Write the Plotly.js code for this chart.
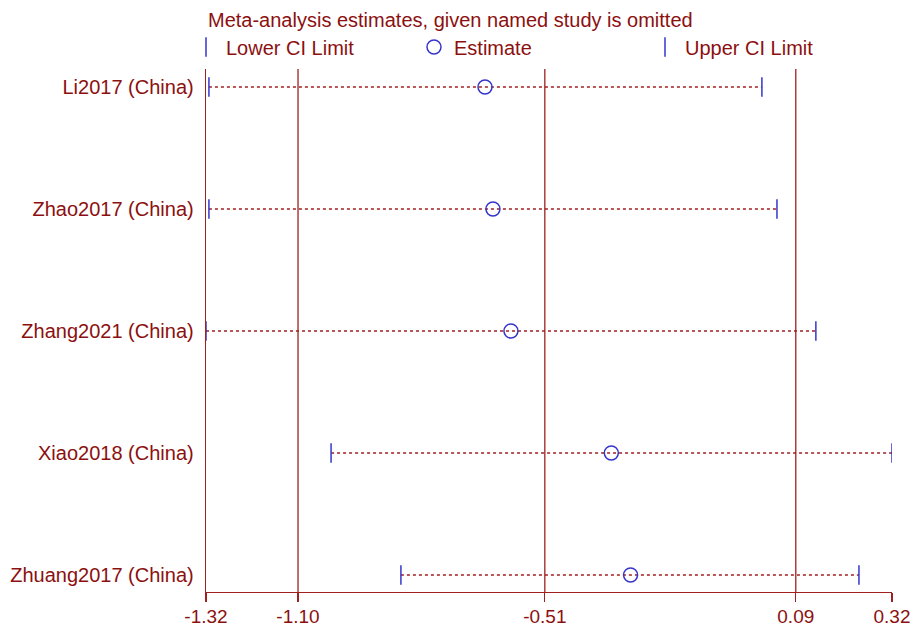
<!DOCTYPE html>
<html>
<head>
<meta charset="utf-8">
<script src="https://cdn.plot.ly/plotly-3.0.1.min.js"></script>
<style>html,body{margin:0;padding:0;background:#fff;}#chart{width:919px;height:626px;}</style>
</head>
<body>
<div id="chart"></div>
<script>
// Data
const studies = ['Li2017 (China)', 'Zhao2017 (China)', 'Zhang2021 (China)', 'Xiao2018 (China)', 'Zhuang2017 (China)'];
const lowerCI = [-1.313, -1.313, -1.320, -1.021, -0.854];
const estimate = [-0.653, -0.634, -0.591, -0.351, -0.305];
const upperCI = [0.009, 0.045, 0.138, 0.320, 0.241];
const tickVals = [-1.32, -1.10, -0.51, 0.09, 0.32];
const refLines = [-1.10, -0.51, 0.09];

const RED = '#8c1010';
const LINE = '#a02020';
const BLUE = '#3535cc';
const FONT = 'Liberation Sans, Arial, Helvetica, sans-serif';

const traces = [];
studies.forEach((s, i) => {
  traces.push({
    type: 'scatter', mode: 'lines',
    x: [lowerCI[i], upperCI[i]], y: [s, s],
    line: {color: LINE, width: 1.5, dash: 'dot'},
    showlegend: false, hoverinfo: 'skip'
  });
});
traces.push({
  type: 'scatter', mode: 'markers', name: 'Lower CI Limit',
  x: lowerCI, y: studies, legend: 'legend',
  marker: {symbol: 'line-ns', size: 14, color: BLUE, line: {color: BLUE, width: 1.5}}
});
traces.push({
  type: 'scatter', mode: 'markers', name: 'Estimate',
  x: estimate, y: studies, legend: 'legend2',
  marker: {symbol: 'circle-open', size: 14, color: BLUE, line: {color: BLUE, width: 1.5}}
});
traces.push({
  type: 'scatter', mode: 'markers', name: 'Upper CI Limit',
  x: upperCI, y: studies, legend: 'legend3',
  marker: {symbol: 'line-ns', size: 14, color: BLUE, line: {color: BLUE, width: 1.5}}
});

const shapes = refLines.map(v => ({
  type: 'line', xref: 'x', yref: 'paper', x0: v, x1: v, y0: 0, y1: 1,
  line: {color: LINE, width: 1.3}
}));

const legendBase = {
  orientation: 'h', yanchor: 'middle', xanchor: 'left', y: 1.042,
  font: {family: FONT, size: 20, color: RED}, bgcolor: 'rgba(0,0,0,0)', borderwidth: 0
};

const layout = {
  width: 919, height: 626,
  margin: {l: 206, r: 27, t: 69, b: 34},
  paper_bgcolor: '#fff', plot_bgcolor: '#fff',
  font: {family: FONT, size: 20, color: RED},
  title: {
    text: 'Meta-analysis estimates, given named study is omitted',
    x: 208 / 919, xanchor: 'left', xref: 'container',
    y: 1 - 20 / 626, yanchor: 'middle', yref: 'container',
    font: {family: FONT, size: 20, color: RED}
  },
  xaxis: {
    range: [-1.32, 0.32], tickvals: tickVals, ticktext: tickVals.map(v => v.toFixed(2)),
    showgrid: false, zeroline: false, showline: true, linecolor: LINE, linewidth: 1.3,
    ticks: 'outside', ticklen: 9, tickwidth: 1.3, tickcolor: LINE,
    ticklabelstandoff: -2,
    tickfont: {family: FONT, size: 19, color: RED}, fixedrange: true
  },
  yaxis: {
    type: 'category', categoryorder: 'array', categoryarray: studies,
    range: [4.139, -0.1475],
    showgrid: false, zeroline: false, showline: true, linecolor: LINE, linewidth: 1.3,
    ticks: '', ticklabelstandoff: 7,
    tickfont: {family: FONT, size: 20, color: RED}, fixedrange: true
  },
  shapes: shapes,
  legend: Object.assign({}, legendBase, {x: (186 - 206) / 686}),
  legend2: Object.assign({}, legendBase, {x: (414 - 206) / 686}),
  legend3: Object.assign({}, legendBase, {x: (645 - 206) / 686}),
  showlegend: true
};

Plotly.newPlot('chart', traces, layout, {displayModeBar: false, staticPlot: true});
</script>
</body>
</html>
